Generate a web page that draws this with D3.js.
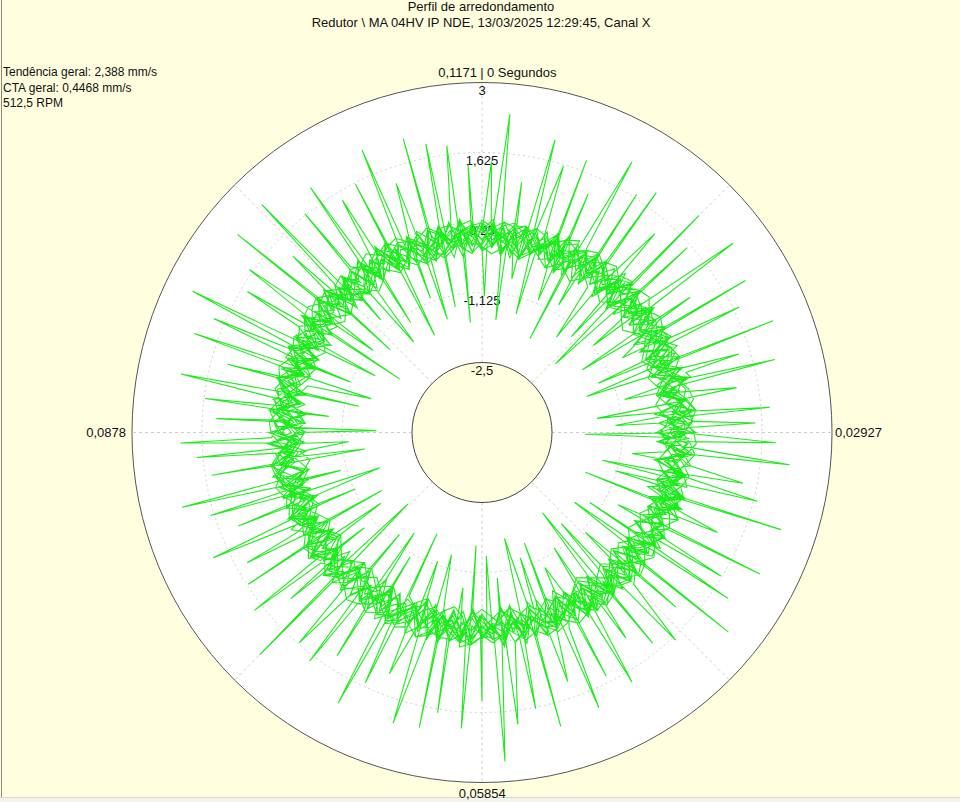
<!DOCTYPE html>
<html>
<head>
<meta charset="utf-8">
<script src="https://cdn.jsdelivr.net/npm/d3@7"></script>
<style>
  html, body { margin: 0; padding: 0; background: #ffffdf; }
  svg { display: block; font-family: "Liberation Sans", Arial, sans-serif; }
</style>
</head>
<body>
<svg id="chart" width="960" height="802"></svg>
<script>
const titleLines = ["Perfil de arredondamento", "Redutor \\ MA 04HV IP NDE, 13/03/2025 12:29:45, Canal X"];
const infoLines = ["Tendência geral: 2,388 mm/s", "CTA geral: 0,4468 mm/s", "512,5 RPM"];

const period = 0.1171; // seconds per revolution
const ringValues = [3, 1.625, 0.25, -1.125, -2.5];
const ringLabels = ["3", "1,625", "0,25", "-1,125", "-2,5"];
const timeTicks = [0, 0.02927, 0.05854, 0.0878];
const timeLabels = ["0,1171 | 0 Segundos", "0,02927", "0,05854", "0,0878"];

// base amplitude per revolution (mm/s), 120 samples each, evenly spaced in time
const band1 = [
  0.05,-0.22,0.18,-0.31,0.02,0.26,-0.14,0.11,-0.38,0.20,-0.05,0.31,
  -0.27,0.08,-0.12,0.24,-0.41,0.15,0.00,-0.19,0.29,-0.08,0.13,-0.33,
  0.21,-0.02,-0.25,0.17,0.34,-0.16,0.06,-0.36,0.10,0.27,-0.21,0.03,
  -0.11,0.22,-0.29,0.14,-0.04,0.30,-0.37,0.09,0.19,-0.15,-0.01,0.25,
  -0.32,0.12,0.28,-0.18,0.04,-0.40,0.16,-0.07,0.23,-0.26,0.35,-0.10,
  0.07,-0.34,0.20,-0.13,0.01,0.32,-0.23,0.11,-0.06,0.18,-0.39,0.26,
  -0.17,0.03,0.29,-0.28,0.14,-0.09,0.22,-0.35,0.05,0.33,-0.20,0.10,
  -0.03,0.24,-0.30,0.16,-0.12,0.27,-0.42,0.08,0.19,-0.24,0.02,0.31,
  -0.15,0.13,-0.37,0.21,-0.06,0.28,-0.19,0.04,0.17,-0.33,0.25,-0.08,
  0.12,-0.27,0.30,-0.02,-0.21,0.15,0.06,-0.36,0.23,-0.11,0.34,-0.16
];
const band2 = [
  -0.18,0.10,-0.35,0.04,0.21,-0.26,-0.02,0.17,-0.44,0.08,0.25,-0.13,
  0.01,-0.30,0.19,-0.07,0.28,-0.39,0.12,-0.16,0.06,0.23,-0.28,-0.04,
  0.15,-0.33,0.09,-0.21,0.30,-0.10,-0.45,0.18,0.02,-0.24,0.13,-0.06,
  0.26,-0.37,0.07,-0.14,0.20,-0.29,0.11,0.00,-0.41,0.16,-0.09,0.24,
  -0.20,0.05,0.29,-0.34,-0.01,0.14,-0.25,0.22,-0.12,0.03,-0.38,0.18,
  0.09,-0.22,0.27,-0.15,-0.05,0.19,-0.43,0.10,0.24,-0.31,0.06,-0.17,
  0.21,-0.08,-0.27,0.13,0.32,-0.19,0.00,-0.36,0.16,-0.11,0.25,-0.03,
  -0.23,0.11,-0.40,0.20,0.04,-0.14,0.28,-0.32,0.07,-0.20,0.15,-0.06,
  0.23,-0.35,0.02,0.18,-0.26,0.09,-0.12,0.26,-0.42,0.13,-0.04,0.21,
  -0.29,0.08,0.17,-0.18,-0.37,0.22,0.05,-0.10,0.27,-0.24,0.12,-0.33
];
const band3 = [
  0.22,-0.09,0.14,-0.30,0.27,0.03,-0.20,0.33,-0.12,0.07,-0.36,0.19,
  -0.04,0.26,-0.23,0.10,0.31,-0.15,0.00,-0.34,0.17,0.24,-0.08,-0.28,
  0.12,0.36,-0.19,0.05,-0.11,0.29,-0.39,0.15,0.02,-0.24,0.21,-0.06,
  0.30,-0.17,0.08,-0.32,0.25,0.11,-0.03,-0.27,0.18,0.34,-0.14,0.06,
  -0.38,0.20,-0.01,0.28,-0.21,0.13,0.04,-0.31,0.23,-0.10,0.32,-0.07,
  -0.25,0.16,0.09,-0.35,0.27,-0.13,0.01,0.21,-0.29,0.14,0.35,-0.18,
  0.05,-0.40,0.19,-0.02,0.30,-0.22,0.11,0.26,-0.33,0.08,-0.09,0.24,
  0.15,-0.26,0.03,0.33,-0.16,-0.37,0.12,0.22,-0.05,0.28,-0.30,0.07,
  -0.14,0.25,0.18,-0.23,0.02,0.31,-0.35,0.10,-0.08,0.20,0.27,-0.19,
  0.06,-0.28,0.34,-0.11,0.16,-0.04,-0.32,0.23,0.09,-0.21,0.29,0.00
];
const band4 = [
  -0.30,0.02,-0.12,0.19,-0.41,-0.06,0.14,-0.23,0.08,-0.35,0.21,-0.15,
  0.05,-0.44,0.11,-0.02,0.24,-0.28,-0.09,0.16,-0.37,0.07,-0.19,0.27,
  -0.33,0.01,-0.13,0.20,-0.46,0.12,-0.04,-0.25,0.18,-0.38,0.09,-0.16,
  0.23,-0.29,-0.07,0.13,-0.42,0.04,0.17,-0.22,-0.01,-0.36,0.26,-0.11,
  0.06,-0.31,0.15,-0.20,-0.47,0.10,0.02,-0.27,0.22,-0.14,-0.39,0.08,
  -0.05,0.19,-0.34,0.03,-0.18,0.25,-0.43,0.11,-0.08,0.16,-0.30,-0.02,
  0.21,-0.37,0.07,-0.24,0.14,-0.12,-0.45,0.18,0.00,-0.21,0.09,-0.33,
  0.24,-0.06,-0.28,0.12,-0.40,0.05,0.20,-0.17,-0.03,-0.35,0.15,-0.10,
  0.01,-0.26,0.27,-0.19,-0.44,0.08,0.13,-0.31,0.04,-0.15,0.22,-0.38,
  -0.07,0.17,-0.23,0.10,-0.36,0.03,-0.13,0.25,-0.29,-0.04,0.11,-0.20
];
const band5 = [
  0.14,-0.17,0.28,-0.05,-0.32,0.20,0.09,-0.26,0.35,-0.13,0.02,-0.38,
  0.24,0.06,-0.21,0.31,-0.10,-0.29,0.17,0.03,-0.35,0.26,-0.07,0.12,
  -0.24,0.33,-0.15,0.05,0.22,-0.40,0.10,-0.02,0.29,-0.18,0.07,-0.31,
  0.19,-0.09,0.34,-0.22,0.00,0.15,-0.36,0.27,-0.12,0.08,-0.27,0.21,
  -0.04,0.30,-0.19,0.11,-0.33,0.24,0.02,-0.14,0.36,-0.25,0.06,-0.08,
  0.18,-0.37,0.13,0.27,-0.16,-0.03,0.23,-0.30,0.09,0.32,-0.20,0.01,
  -0.11,0.25,-0.34,0.16,0.04,-0.23,0.30,-0.06,-0.39,0.14,0.21,-0.15,
  0.07,-0.28,0.33,-0.01,0.12,-0.35,0.19,-0.09,0.26,-0.21,0.03,0.28,
  -0.32,0.10,-0.05,0.23,-0.17,0.35,-0.26,0.08,0.15,-0.41,0.20,-0.02,
  0.29,-0.13,0.06,-0.30,0.17,0.25,-0.22,0.04,-0.10,0.31,-0.27,0.13
];
const band6 = [
  -0.08,0.20,-0.39,0.11,-0.01,-0.24,0.27,-0.16,0.05,-0.33,0.14,0.23,
  -0.28,0.00,0.17,-0.43,0.09,-0.12,0.26,-0.20,-0.04,0.19,-0.35,0.07,
  0.28,-0.14,-0.30,0.12,0.02,-0.22,0.24,-0.41,0.15,-0.06,0.21,-0.27,
  -0.03,0.30,-0.18,0.08,-0.37,0.16,0.04,-0.25,0.22,-0.11,-0.34,0.13,
  0.25,-0.21,0.01,-0.38,0.18,-0.07,0.27,-0.15,0.06,-0.44,0.11,0.20,
  -0.26,0.03,-0.12,0.29,-0.31,0.09,0.16,-0.19,-0.02,0.24,-0.36,0.12,
  -0.09,0.22,-0.29,0.05,0.31,-0.23,0.00,-0.40,0.17,0.08,-0.15,0.26,
  -0.32,0.10,0.19,-0.06,-0.25,0.28,-0.13,0.04,-0.42,0.15,0.23,-0.18,
  0.02,-0.30,0.21,-0.10,0.14,-0.37,0.07,0.27,-0.20,-0.05,0.18,-0.34,
  0.11,-0.16,0.25,-0.28,0.06,-0.03,0.20,-0.39,0.13,-0.22,0.09,0.16
];
const band7 = [
  0.18,-0.24,0.07,-0.40,0.25,-0.11,0.03,0.30,-0.33,0.12,-0.19,0.22,
  -0.06,-0.36,0.16,0.27,-0.14,0.05,-0.29,0.20,-0.43,0.09,0.32,-0.21,
  0.01,0.24,-0.35,0.13,-0.08,0.29,-0.18,-0.02,0.21,-0.38,0.15,0.06,
  -0.27,0.33,-0.12,0.04,-0.41,0.19,0.26,-0.16,0.08,-0.31,0.23,-0.05,
  0.14,-0.22,0.31,-0.37,0.02,0.17,-0.13,0.28,-0.26,0.10,-0.44,0.20,
  -0.09,0.25,0.03,-0.30,0.35,-0.17,0.11,-0.23,-0.03,0.22,-0.39,0.16,
  0.27,-0.12,-0.28,0.07,0.18,-0.34,0.24,-0.07,0.13,-0.20,0.30,-0.41,
  0.04,0.19,-0.25,0.11,-0.15,0.34,-0.31,0.02,0.26,-0.10,-0.36,0.17,
  -0.21,0.08,0.29,-0.04,-0.27,0.23,-0.14,0.32,-0.38,0.06,0.15,-0.18,
  0.21,-0.32,0.00,0.27,-0.23,0.12,-0.40,0.18,-0.06,0.25,-0.16,0.09
];
const band8 = [
  -0.25,0.13,-0.04,0.26,-0.37,0.09,-0.16,0.21,0.01,-0.43,0.17,-0.10,
  0.30,-0.22,0.05,-0.33,0.19,0.12,-0.28,0.02,0.25,-0.40,0.08,-0.13,
  0.23,-0.07,-0.34,0.16,0.31,-0.19,0.04,-0.26,0.14,-0.45,0.22,-0.01,
  -0.17,0.28,-0.30,0.10,-0.05,0.20,-0.39,0.15,0.27,-0.24,-0.08,0.18,
  0.03,-0.35,0.24,-0.12,0.33,-0.20,0.07,-0.42,0.11,0.29,-0.15,0.00,
  -0.31,0.17,0.06,-0.23,0.26,-0.38,0.13,-0.09,0.21,0.34,-0.27,0.05,
  -0.14,0.22,-0.44,0.09,0.02,-0.18,0.28,-0.32,0.15,-0.06,0.24,-0.21,
  0.11,-0.36,0.19,0.30,-0.11,-0.25,0.07,0.20,-0.41,0.14,-0.02,0.27,
  -0.19,0.04,-0.29,0.23,0.12,-0.34,0.18,-0.07,0.31,-0.16,-0.39,0.10,
  0.25,-0.13,0.03,-0.22,0.19,-0.30,0.28,0.06,-0.17,0.14,-0.42,0.21
];
const band9 = [
  0.10,0.31,-0.20,0.04,-0.35,0.18,-0.09,0.27,-0.15,0.02,0.22,-0.41,
  0.13,-0.05,0.33,-0.26,0.08,-0.18,0.24,-0.32,0.16,0.29,-0.11,-0.02,
  -0.37,0.20,0.06,-0.23,0.30,-0.14,0.11,-0.44,0.25,-0.04,0.17,-0.28,
  0.34,-0.10,0.01,-0.31,0.21,0.14,-0.19,0.07,-0.40,0.26,-0.13,0.19,
  -0.03,0.28,-0.24,0.09,-0.36,0.15,0.32,-0.17,0.04,-0.29,0.22,-0.08,
  0.12,-0.42,0.27,-0.01,-0.21,0.18,0.35,-0.14,0.06,-0.33,0.23,-0.06,
  0.16,-0.25,0.09,0.30,-0.38,0.13,-0.12,0.25,-0.03,-0.27,0.20,0.05,
  -0.34,0.17,0.28,-0.16,0.02,-0.22,0.31,-0.39,0.14,0.07,-0.19,0.26,
  -0.09,0.21,-0.30,0.11,-0.45,0.24,0.00,-0.13,0.29,-0.24,0.08,0.18,
  -0.37,0.12,-0.05,0.33,-0.20,0.03,0.23,-0.28,0.15,-0.10,0.27,-0.33
];
const band10 = [
  -0.14,0.25,-0.31,0.08,0.19,-0.22,0.02,-0.39,0.16,0.28,-0.07,-0.26,
  0.21,-0.13,0.06,-0.42,0.24,-0.02,0.30,-0.18,0.10,-0.35,0.15,0.03,
  -0.23,0.27,-0.09,0.18,-0.37,0.07,0.32,-0.16,-0.04,0.22,-0.29,0.12,
  -0.45,0.20,0.05,-0.19,0.29,-0.11,0.14,-0.33,0.01,0.25,-0.24,0.09,
  0.31,-0.06,-0.30,0.17,-0.15,0.23,-0.40,0.11,0.04,-0.21,0.28,-0.12,
  0.19,-0.36,0.08,-0.03,0.26,-0.27,0.13,0.35,-0.20,-0.08,0.16,-0.43,
  0.22,0.00,-0.17,0.30,-0.25,0.10,-0.34,0.18,0.06,-0.14,0.24,-0.31,
  -0.01,0.27,-0.38,0.12,0.20,-0.23,0.05,-0.10,0.33,-0.28,0.15,-0.05,
  0.23,-0.41,0.09,-0.18,0.29,0.02,-0.26,0.17,-0.12,0.21,-0.35,0.07,
  0.14,-0.22,0.31,-0.09,-0.32,0.19,0.04,-0.16,0.26,-0.39,0.11,-0.02
];
const band11 = [
  0.05,0.15,0.28,0.20,0.02,-0.15,-0.30,-0.22,-0.05,0.12,0.25,0.33,
  0.18,-0.04,-0.21,-0.38,-0.27,-0.10,0.08,0.19,0.10,-0.06,-0.24,-0.41,
  -0.30,-0.12,0.03,0.21,0.35,0.24,0.07,-0.11,-0.26,-0.18,0.00,0.16,
  0.29,0.14,-0.02,-0.19,-0.34,-0.45,-0.29,-0.08,0.11,0.26,0.17,0.01,
  -0.16,-0.28,-0.13,0.06,0.23,0.31,0.12,-0.07,-0.25,-0.40,-0.23,-0.04,
  0.14,0.30,0.22,0.04,-0.14,-0.32,-0.20,-0.02,0.17,0.27,0.09,-0.10,
  -0.28,-0.43,-0.31,-0.14,0.05,0.20,0.34,0.19,0.01,-0.17,-0.33,-0.21,
  -0.03,0.15,0.24,0.08,-0.09,-0.26,-0.39,-0.24,-0.06,0.13,0.28,0.16,
  -0.01,-0.20,-0.36,-0.25,-0.08,0.10,0.25,0.32,0.15,-0.05,-0.22,-0.37,
  -0.26,-0.09,0.07,0.22,0.30,0.13,-0.04,-0.19,-0.31,-0.16,0.02,0.11
];
const band12 = [
  -0.22,-0.36,-0.25,-0.06,0.12,0.27,0.18,0.00,-0.17,-0.31,-0.44,-0.27,
  -0.09,0.10,0.24,0.31,0.14,-0.03,-0.20,-0.33,-0.18,0.01,0.19,0.28,
  0.11,-0.08,-0.26,-0.42,-0.30,-0.13,0.06,0.22,0.33,0.17,-0.02,-0.18,
  -0.35,-0.23,-0.05,0.13,0.26,0.09,-0.11,-0.29,-0.46,-0.32,-0.15,0.04,
  0.20,0.29,0.12,-0.06,-0.23,-0.37,-0.21,-0.04,0.14,0.30,0.20,0.02,
  -0.16,-0.34,-0.24,-0.07,0.11,0.25,0.34,0.16,-0.01,-0.19,-0.39,-0.27,
  -0.10,0.08,0.23,0.13,-0.05,-0.22,-0.38,-0.26,-0.07,0.12,0.27,0.18,
  0.03,-0.14,-0.30,-0.45,-0.28,-0.11,0.07,0.21,0.32,0.15,-0.03,-0.21,
  -0.33,-0.17,0.02,0.18,0.26,0.10,-0.08,-0.25,-0.41,-0.29,-0.12,0.05,
  0.19,0.31,0.14,-0.04,-0.20,-0.35,-0.22,-0.06,0.10,0.24,0.08,-0.12
];
const band13 = [
  0.30,0.16,-0.01,-0.18,-0.33,-0.20,-0.03,0.14,0.26,0.35,0.19,0.02,
  -0.15,-0.29,-0.42,-0.26,-0.08,0.09,0.23,0.12,-0.04,-0.21,-0.36,-0.24,
  -0.06,0.11,0.27,0.33,0.17,-0.02,-0.19,-0.31,-0.17,0.00,0.18,0.29,
  0.13,-0.05,-0.23,-0.39,-0.28,-0.10,0.07,0.24,0.31,0.14,-0.03,-0.20,
  -0.35,-0.47,-0.30,-0.12,0.06,0.21,0.12,-0.06,-0.24,-0.38,-0.22,-0.05,
  0.13,0.28,0.36,0.18,0.00,-0.17,-0.32,-0.19,-0.02,0.15,0.25,0.08,
  -0.10,-0.27,-0.43,-0.29,-0.11,0.07,0.22,0.30,0.13,-0.05,-0.21,-0.34,
  -0.18,0.00,0.16,0.27,0.11,-0.07,-0.25,-0.40,-0.26,-0.08,0.10,0.24,
  0.32,0.17,-0.01,-0.18,-0.30,-0.14,0.03,0.20,0.28,0.10,-0.09,-0.27,
  -0.44,-0.31,-0.13,0.05,0.21,0.14,-0.02,-0.19,-0.37,-0.23,-0.04,0.16
];
const band14 = [
  -0.10,0.06,0.21,0.29,0.11,-0.08,-0.26,-0.41,-0.27,-0.09,0.09,0.23,
  0.14,-0.04,-0.22,-0.35,-0.19,-0.01,0.17,0.30,0.22,0.05,-0.13,-0.29,
  -0.44,-0.33,-0.15,0.03,0.19,0.27,0.10,-0.07,-0.25,-0.38,-0.24,-0.06,
  0.12,0.26,0.34,0.16,-0.02,-0.20,-0.32,-0.16,0.02,0.20,0.13,-0.05,
  -0.23,-0.40,-0.28,-0.11,0.08,0.25,0.31,0.15,-0.03,-0.21,-0.36,-0.20,
  -0.03,0.15,0.28,0.11,-0.07,-0.24,-0.45,-0.30,-0.12,0.06,0.22,0.33,
  0.18,0.00,-0.18,-0.31,-0.15,0.04,0.21,0.12,-0.06,-0.23,-0.39,-0.27,
  -0.08,0.10,0.26,0.32,0.14,-0.04,-0.21,-0.37,-0.22,-0.04,0.14,0.27,
  0.09,-0.09,-0.27,-0.42,-0.28,-0.10,0.08,0.23,0.15,-0.03,-0.20,-0.34,
  -0.17,0.01,0.18,0.30,0.12,-0.06,-0.24,-0.38,-0.25,-0.07,0.11,0.20
];
const band15 = [
  0.24,0.09,-0.09,-0.25,-0.39,-0.24,-0.07,0.11,0.27,0.17,-0.01,-0.19,
  -0.34,-0.21,-0.03,0.15,0.29,0.35,0.18,0.00,-0.17,-0.30,-0.44,-0.28,
  -0.10,0.08,0.22,0.12,-0.05,-0.22,-0.37,-0.24,-0.05,0.13,0.28,0.19,
  0.02,-0.16,-0.31,-0.18,0.00,0.17,0.30,0.14,-0.04,-0.22,-0.40,-0.27,
  -0.09,0.10,0.24,0.33,0.16,-0.02,-0.20,-0.35,-0.23,-0.06,0.12,0.26,
  0.11,-0.07,-0.24,-0.41,-0.29,-0.12,0.06,0.21,0.31,0.15,-0.03,-0.21,
  -0.36,-0.20,-0.02,0.16,0.28,0.10,-0.08,-0.26,-0.43,-0.30,-0.13,0.05,
  0.20,0.32,0.17,-0.01,-0.18,-0.33,-0.19,-0.02,0.16,0.25,0.08,-0.10,
  -0.28,-0.38,-0.22,-0.04,0.14,0.29,0.34,0.16,-0.02,-0.19,-0.35,-0.21,
  -0.04,0.13,0.27,0.11,-0.06,-0.23,-0.39,-0.26,-0.09,0.09,0.22,0.30
];
const band16 = [
  -0.31,-0.18,0.00,0.16,0.27,0.12,-0.05,-0.22,-0.38,-0.26,-0.08,0.10,
  0.25,0.32,0.15,-0.03,-0.20,-0.35,-0.46,-0.29,-0.11,0.07,0.21,0.10,
  -0.07,-0.24,-0.37,-0.21,-0.03,0.14,0.28,0.34,0.17,-0.01,-0.18,-0.32,
  -0.19,-0.02,0.16,0.26,0.09,-0.09,-0.27,-0.43,-0.28,-0.10,0.08,0.23,
  0.30,0.13,-0.04,-0.21,-0.34,-0.17,0.01,0.18,0.29,0.11,-0.07,-0.25,
  -0.40,-0.25,-0.07,0.11,0.24,0.14,-0.03,-0.20,-0.36,-0.22,-0.04,0.14,
  0.28,0.35,0.18,0.00,-0.17,-0.31,-0.45,-0.30,-0.12,0.06,0.20,0.11,
  -0.06,-0.23,-0.39,-0.24,-0.06,0.12,0.27,0.31,0.14,-0.04,-0.21,-0.33,
  -0.16,0.02,0.19,0.27,0.10,-0.08,-0.26,-0.41,-0.27,-0.09,0.09,0.24,
  0.16,-0.02,-0.19,-0.35,-0.20,-0.03,0.15,0.29,0.12,-0.05,-0.23,-0.36
];
const bands = [band1, band2, band3, band4, band5, band6, band7, band8,
  band9, band10, band11, band12, band13, band14, band15, band16];

// impulsive peaks: angle (deg, clockwise from top), tip amplitude, and the sample right after
const peakDeg = [
  2, 5, 9, 14, 17, 21, 24, 29, 33, 36, 41, 45, 48, 53, 57, 60, 64, 69, 73, 76,
  80, 85, 88, 92, 96, 101, 104, 108, 113, 117, 121, 124, 129, 132, 137, 141, 145, 149, 153, 157,
  161, 165, 169, 173, 176, 180, 184, 189, 192, 197, 201, 205, 208, 213, 217, 221, 225, 229, 232, 237,
  241, 245, 249, 253, 256, 261, 265, 268, 273, 277, 281, 285, 289, 293, 296, 301, 305, 309, 313, 316,
  321, 325, 329, 333, 337, 341, 345, 349, 353, 357
];
const peakVal = [
  1.45, 2.40, 1.10, 2.05, 1.60, 1.85, 1.25, 2.20, 1.70, 1.95, 1.30, 2.15, 1.55, 2.30, 1.00, 2.10, 1.75, 2.25, 1.40, 2.05,
  1.20, 1.80, 1.50, 1.90, 2.20, 1.35, 1.70, 2.30, 1.15, 2.25, 1.60, 1.95, 2.35, 1.25, 1.70, 1.45, 1.05, 1.85, 1.50, 2.00,
  1.30, 2.10, 1.65, 1.90, 2.60, 1.40, 1.95, 1.70, 2.05, 2.10, 1.20, 1.55, 2.15, 1.35, 1.75, 1.60, 2.30, 1.10, 1.80, 1.60,
  1.40, 1.95, 1.25, 1.70, 2.20, 1.50, 1.75, 2.05, 1.35, 1.60, 2.15, 1.30, 2.10, 1.85, 2.45, 1.50, 1.70, 2.30, 1.20, 2.35,
  1.65, 2.00, 1.45, 1.60, 2.15, 1.30, 2.10, 1.90, 1.80, 1.40
];
const peakFoot = [
  0.10, -0.15, 0.22, -0.05, 0.18, -0.25, 0.04, 0.28, -0.12, 0.08, -0.20, 0.15, 0.02, -0.30, 0.24, -0.08, 0.12, -0.18, 0.30, -0.02,
  0.06, -0.22, 0.19, 0.00, -0.14, 0.26, -0.10, 0.13, -0.27, 0.21, -0.04, 0.17, -0.19, 0.09, 0.25, -0.11, 0.03, -0.24, 0.20, -0.07,
  0.14, -0.16, 0.27, -0.01, 0.11, -0.28, 0.07, 0.23, -0.13, 0.05, -0.21, 0.16, -0.06, 0.29, -0.17, 0.01, 0.20, -0.09, 0.12, -0.26,
  0.24, -0.03, 0.08, -0.20, 0.18, -0.12, 0.03, 0.26, -0.15, 0.10, -0.23, 0.19, -0.08, 0.14, -0.29, 0.06, 0.22, -0.11, 0.02, -0.18,
  0.27, -0.05, 0.15, -0.24, 0.09, 0.20, -0.14, 0.04, -0.21, 0.12
];
// impulsive dips
const dipDeg = [
  1, 7, 11, 16, 23, 27, 31, 38, 43, 47, 52, 58, 62, 67, 71, 77, 83, 87, 91, 98,
  103, 106, 111, 118, 123, 127, 134, 139, 143, 148, 155, 159, 163, 168, 174, 178, 183, 187, 194, 199,
  204, 210, 214, 219, 226, 231, 235, 240, 246, 251, 255, 262, 266, 271, 276, 282, 287, 291, 298, 303,
  307, 312, 318, 323, 327, 334, 339, 343, 348, 354
];
const dipVal = [
  -1.20, -1.65, -0.80, -1.45, -1.05, -1.80, -0.95, -1.50, -1.30, -1.90, -1.10, -1.55, -0.75, -1.40, -1.70, -1.00, -1.60, -1.25, -1.85, -0.90,
  -1.45, -1.15, -1.70, -0.85, -1.35, -1.60, -1.05, -1.50, -1.90, -1.20, -0.95, -1.55, -1.30, -1.75, -1.00, -1.45, -1.65, -0.80, -1.40, -1.20,
  -1.70, -1.05, -1.50, -1.30, -1.85, -0.90, -1.45, -1.60, -1.15, -1.75, -1.00, -1.55, -1.25, -1.80, -0.85, -1.40, -1.60, -1.10, -1.50, -1.95,
  -1.20, -1.45, -0.90, -1.65, -1.30, -1.75, -1.05, -1.55, -1.35, -1.70
];
const dipFoot = [
  -0.05, 0.14, -0.22, 0.08, 0.25, -0.12, 0.03, -0.27, 0.19, -0.09, 0.16, -0.18, 0.06, 0.22, -0.15, 0.01, -0.30, 0.11, 0.20, -0.06,
  0.09, -0.24, 0.17, -0.02, 0.28, -0.13, 0.05, -0.20, 0.12, 0.23, -0.10, 0.02, -0.26, 0.18, -0.07, 0.15, 0.26, -0.16, 0.04, -0.21,
  0.13, -0.03, 0.21, -0.28, 0.07, 0.17, -0.11, 0.00, -0.19, 0.24, -0.08, 0.10, -0.23, 0.19, 0.06, -0.14, 0.27, -0.04, 0.12, -0.25,
  0.08, 0.20, -0.17, 0.03, -0.29, 0.15, 0.01, -0.12, 0.22, -0.06
];
const footGapDeg = 0.6;

const svg = d3.select("#chart");
const cx = 482, cy = 432.5;

const r = d3.scaleLinear().domain([-2.5, 3]).range([70, 350]);
const angle = d3.scaleLinear().domain([0, period]).range([0, 2 * Math.PI]);
const degToTime = d3.scaleLinear().domain([0, 360]).range([0, period]);

// frame edges
svg.append("line").attr("x1", 1.5).attr("x2", 1.5).attr("y1", 0).attr("y2", 797)
  .attr("stroke", "#8a8a80");
svg.append("rect").attr("x", 0).attr("y", 797).attr("width", 960).attr("height", 5)
  .attr("fill", "#f4f4ee");
svg.append("line").attr("x1", 0).attr("x2", 960).attr("y1", 797.5).attr("y2", 797.5)
  .attr("stroke", "#d8d8cc");

const g = svg.append("g").attr("transform", `translate(${cx},${cy})`);

// plot disc
g.append("circle").attr("r", r(3)).attr("fill", "#fff");

// radial grid every 45 degrees
g.selectAll("line.spoke")
  .data(d3.range(0, 360, 45))
  .join("line")
  .attr("class", "spoke")
  .attr("x1", d => r(-2.5) * Math.sin(angle(degToTime(d))))
  .attr("y1", d => -r(-2.5) * Math.cos(angle(degToTime(d))))
  .attr("x2", d => r(3) * Math.sin(angle(degToTime(d))))
  .attr("y2", d => -r(3) * Math.cos(angle(degToTime(d))))
  .attr("stroke", "#d4cccc")
  .attr("stroke-dasharray", "3,3");

// dashed rings
g.selectAll("circle.ring")
  .data(ringValues.slice(1, -1))
  .join("circle")
  .attr("class", "ring")
  .attr("r", d => r(d))
  .attr("fill", "none")
  .attr("stroke", "#d0d0d0")
  .attr("stroke-dasharray", "2,3");

// ring labels (under the trace)
g.selectAll("text.ring-label")
  .data(ringValues.slice(0, -1))
  .join("text")
  .attr("class", "ring-label")
  .attr("x", 0)
  .attr("y", d => -r(d) + 12.5)
  .attr("text-anchor", "middle")
  .attr("font-size", 13)
  .attr("fill", "#111")
  .text((d, i) => ringLabels[i]);

// trace: base samples of every revolution, with the peaks and dips slotted in by time
const points = [];
bands.forEach((rev, k) => {
  rev.forEach((v, i) => points.push({ t: (k + i / rev.length) * period, v: v }));
});
peakDeg.forEach((d, i) => {
  const t0 = (i % bands.length) * period + degToTime(d);
  points.push({ t: t0, v: peakVal[i] });
  points.push({ t: t0 + degToTime(footGapDeg), v: peakFoot[i] });
});
dipDeg.forEach((d, i) => {
  const t0 = ((i + 7) % bands.length) * period + degToTime(d);
  points.push({ t: t0, v: dipVal[i] });
  points.push({ t: t0 + degToTime(footGapDeg), v: dipFoot[i] });
});
points.sort((a, b) => a.t - b.t);

const line = d3.lineRadial()
  .angle(d => angle(d.t))
  .radius(d => r(d.v));

g.append("path")
  .datum(points)
  .attr("d", line)
  .attr("fill", "none")
  .attr("stroke", "#1ceb1c")
  .attr("stroke-width", 1.1);

// outer and inner circle borders
g.append("circle").attr("r", r(3)).attr("fill", "none").attr("stroke", "#555");
g.append("circle").attr("r", r(-2.5)).attr("fill", "#ffffdf").attr("stroke", "#444");
g.append("text").attr("x", 0).attr("y", -r(-2.5) + 12.5)
  .attr("text-anchor", "middle").attr("font-size", 13).attr("fill", "#111")
  .text(ringLabels[4]);

// time labels around the rim
const R = r(3);
const topParts = timeLabels[0].split(" | ");
const topY = -R - 5.5;
g.append("text").attr("x", -5).attr("y", topY).attr("text-anchor", "end")
  .attr("font-size", 13).attr("fill", "#111").text(topParts[0]);
g.append("text").attr("x", 0).attr("y", topY).attr("text-anchor", "middle")
  .attr("font-size", 13).attr("fill", "#111").text("|");
g.append("text").attr("x", 5).attr("y", topY).attr("text-anchor", "start")
  .attr("font-size", 13).attr("fill", "#111").text(topParts[1]);

timeTicks.slice(1).forEach((t, j) => {
  const i = j + 1;
  const a = angle(t);
  const off = i === 3 ? R + 6 : R + 3;
  const x = off * Math.sin(a), y = -off * Math.cos(a);
  const anchor = i === 1 ? "start" : i === 3 ? "end" : "middle";
  const dy = i === 2 ? 13 : 4.5;
  g.append("text")
    .attr("x", x).attr("y", y + dy)
    .attr("text-anchor", anchor)
    .attr("font-size", 13)
    .attr("fill", "#111")
    .text(timeLabels[i]);
});

// title
svg.selectAll("text.title")
  .data(titleLines)
  .join("text")
  .attr("class", "title")
  .attr("x", 481)
  .attr("y", (d, i) => 10.5 + i * 16)
  .attr("text-anchor", "middle")
  .attr("font-size", 13)
  .attr("fill", "#111")
  .text(d => d);

// info block
svg.selectAll("text.info")
  .data(infoLines)
  .join("text")
  .attr("class", "info")
  .attr("x", 3)
  .attr("y", (d, i) => 76 + i * 15.5)
  .attr("font-size", 12)
  .attr("fill", "#111")
  .text(d => d);
</script>
</body>
</html>
